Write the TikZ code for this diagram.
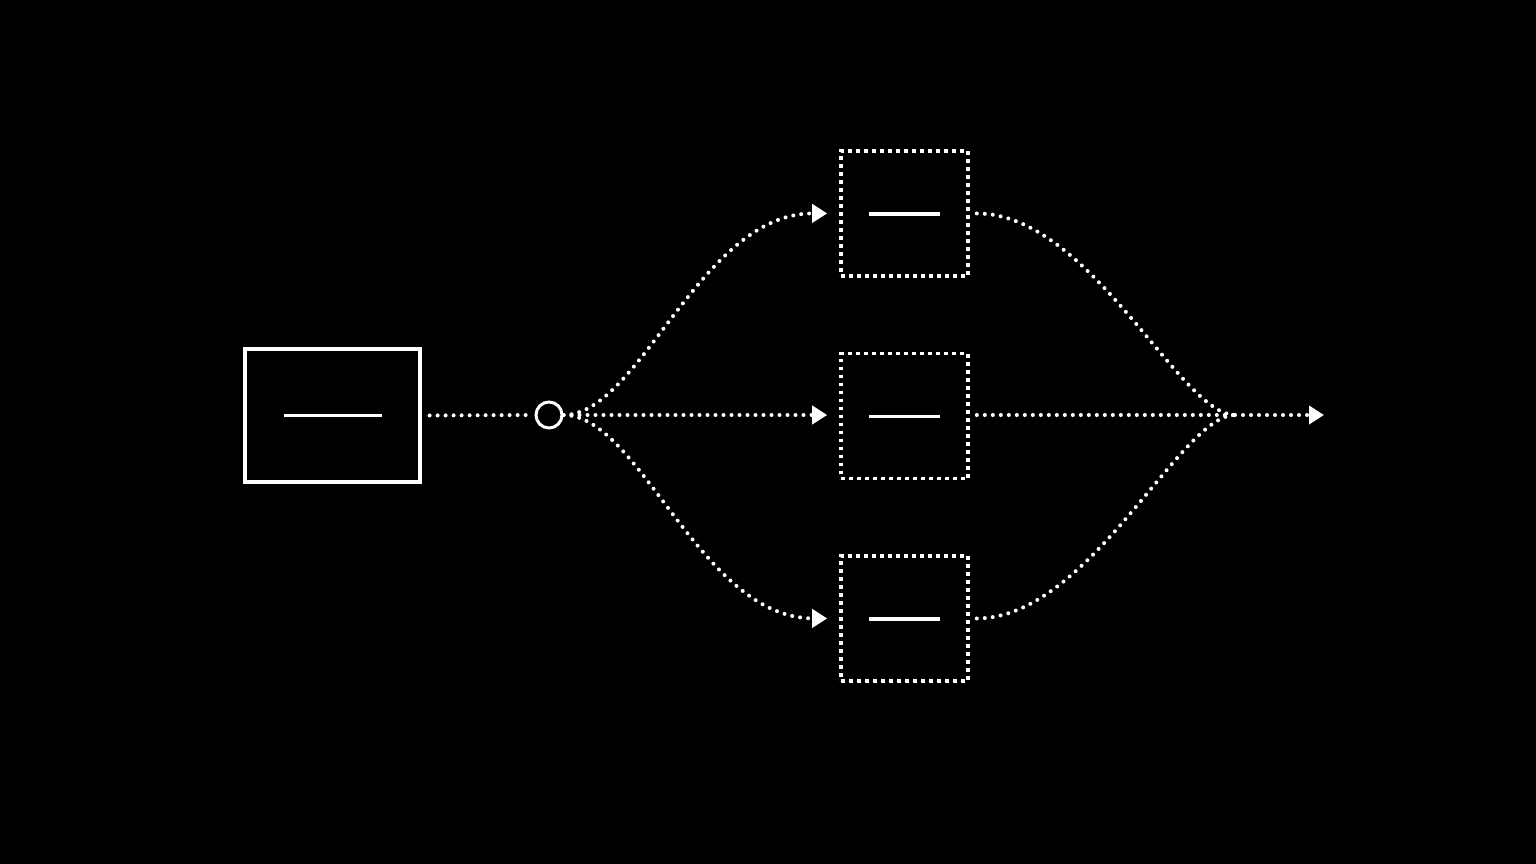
\documentclass[tikz,border=0pt]{standalone}
\usetikzlibrary{arrows.meta}
\begin{document}
\begin{tikzpicture}[x=1pt,y=-1pt,
  solidbox/.style={draw=white,line width=3.2pt,minimum width=175pt,minimum height=133pt,inner sep=0pt},
  dotbox/.style={draw=white,line width=3.6pt,dash pattern=on 3.6pt off 4.4pt,minimum width=127pt,minimum height=125pt,inner sep=0pt},
  dotline/.style={draw=white,line width=4pt,line cap=round,dash pattern=on 0pt off 8pt},
  tipped/.style={-{Triangle[length=15pt,width=18pt,fill=white]}},
  bar/.style={draw=white,line width=3.4pt},
  hub/.style={circle,draw=white,line width=3pt,minimum size=26pt,inner sep=0pt}]
\fill[black] (0,0) rectangle (1536,864);
\useasboundingbox (0,0) rectangle (1536,864);
\node[solidbox] (src) at (332.5,415.5) {};
\draw[bar] ([xshift=-49pt]src.center) -- ([xshift=49pt]src.center);
\node[hub] (hub) at (549,415) {};
\node[dotbox] (b1) at (904.5,213.5) {};
\node[dotbox] (b2) at (904.5,416) {};
\node[dotbox] (b3) at (904.5,618.5) {};
\foreach \b in {b1,b2,b3}{
  \draw[bar] ([xshift=-35.5pt,yshift=-0.5pt]\b.center) -- ([xshift=35.5pt,yshift=-0.5pt]\b.center);
}
\coordinate (merge) at (1235,415);
\coordinate (out) at (1324,415);
\draw[dotline,shorten <=8pt,shorten >=6pt] (src.east) -- (hub.west);
\draw[dotline,tipped,shorten >=12pt] (hub.east) .. controls (640,415) and (700,213) .. (b1.west);
\draw[dotline,tipped,shorten >=12pt] (hub.east) -- (b2.west |- hub.east);
\draw[dotline,tipped,shorten >=12pt] (hub.east) .. controls (640,415) and (700,618) .. (b3.west);
\draw[dotline,shorten <=7pt] (b1.east) .. controls (1090,213) and (1180,415) .. (merge);
\draw[dotline,shorten <=7pt] (b2.east |- merge) -- (merge);
\draw[dotline,shorten <=7pt] (b3.east) .. controls (1090,618) and (1180,415) .. (merge);
\draw[dotline,tipped] (merge) -- (out);
\end{tikzpicture}
\end{document}
